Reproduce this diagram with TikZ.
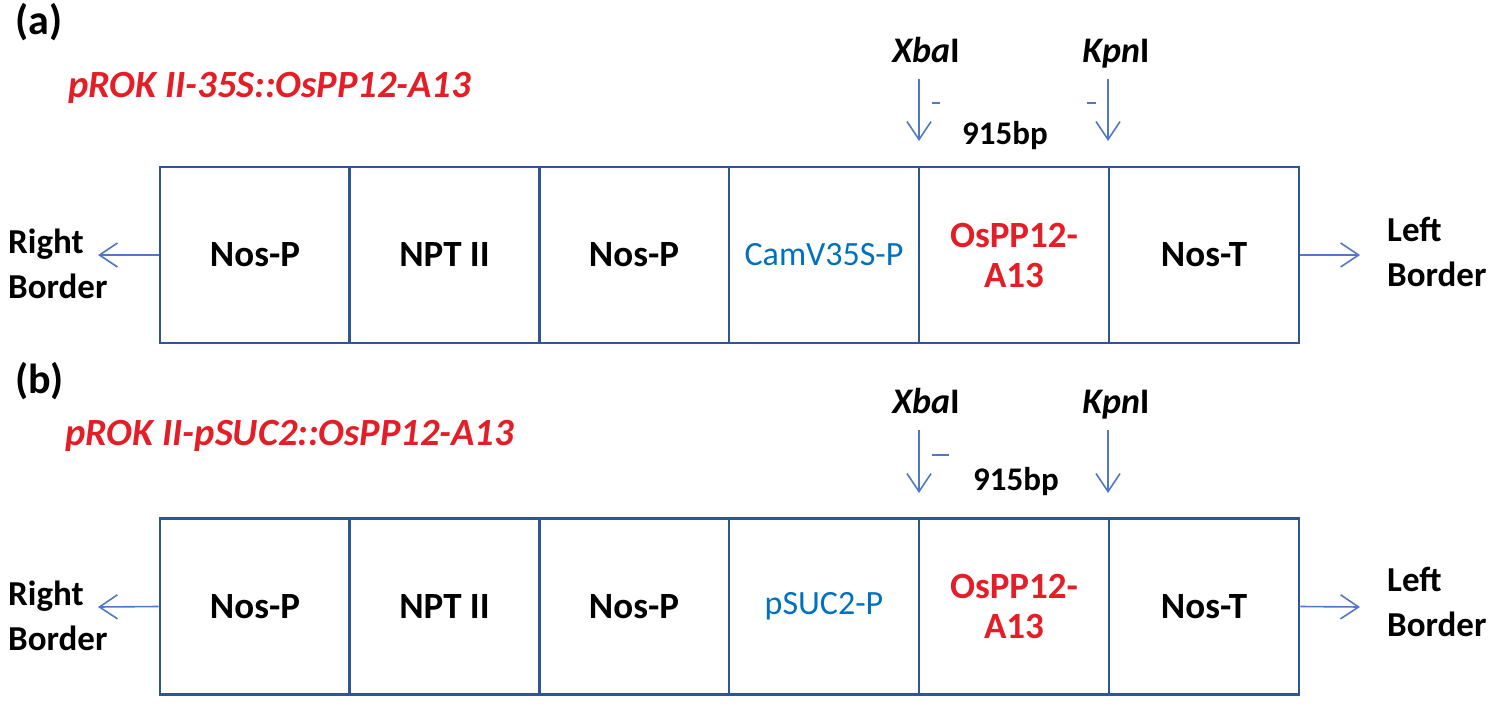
\documentclass[tikz,border=0pt]{standalone}
\usepackage{fontspec}
\setmainfont{Carlito}
\usetikzlibrary{arrows.meta}
\definecolor{boxblue}{RGB}{47,85,151}
\definecolor{arrblue}{RGB}{80,120,196}
\definecolor{txtblue}{RGB}{0,112,192}
\definecolor{txtred}{RGB}{228,30,38}
\tikzset{
  cell/.style={draw=boxblue, line width=2.8pt, minimum width=190pt, minimum height=176pt, inner sep=0pt, font=\fontsize{37}{40}\selectfont\bfseries, align=center},
  arr/.style={draw=arrblue, line width=1.6pt, -{Straight Barb[length=18pt,width=24pt,line width=1.6pt]}},
  lbl/.style={font=\fontsize{36}{44}\selectfont\bfseries, inner sep=0pt},
  ttl/.style={font=\fontsize{38.5}{44}\selectfont\bfseries\itshape, text=txtred, inner sep=0pt, anchor=base west},
  panel/.style={font=\fontsize{42}{44}\selectfont\bfseries, inner sep=0pt, anchor=base west},
  bord/.style={font=\fontsize{35}{45}\selectfont\bfseries, inner sep=0pt, align=left},
  dashmark/.style={draw=arrblue, line width=1.6pt},
}
\begin{document}
\begin{tikzpicture}[x=1pt,y=-1pt]
\useasboundingbox (0,0) rectangle (1500,709);
% ---------- panel (a)
\node[panel] (pa) at (15,35) {(a)};
\node[ttl] (ta) at (68,97) {pROK II-35S::OsPP12-A13};
\node[cell] (a1) at (255,255) {Nos-P};
\node[cell] (a2) at (444.5,255) {NPT II};
\node[cell] (a3) at (634,255) {Nos-P};
\node[cell, font=\fontsize{34}{40}\selectfont, text=txtblue] (a4) at (824,255) {CamV35S-P};
\node[cell, text=txtred] (a5) at (1014,255) {OsPP12-\\A13};
\node[cell] (a6) at (1204,255) {Nos-T};
\node[bord, anchor=west] (rba) at (8,264) {Right\\Border};
\node[bord, anchor=west] (lba) at (1387,252) {Left\\Border};
\coordinate (rbatip) at (98,255);
\coordinate (lbatip) at (1360,255);
\draw[arr] (a1.west) -- (rbatip);
\draw[arr] (a6.east) -- (lbatip);
\node[lbl, anchor=base] (xa) at (926,63) {\textit{Xba}I};
\node[lbl, anchor=base] (ka) at (1116,63) {\textit{Kpn}I};
\coordinate (xas) at (919,79); \coordinate (xat) at (919,141);
\coordinate (kas) at (1108,79); \coordinate (kat) at (1108,141);
\draw[arr] (xas) -- (xat);
\draw[arr] (kas) -- (kat);
\coordinate (da1) at (932,103); \coordinate (da2) at (940,103);
\coordinate (da3) at (1087,103); \coordinate (da4) at (1096,103);
\draw[dashmark] (da1) -- (da2);
\draw[dashmark] (da3) -- (da4);
\node[lbl, anchor=base, font=\fontsize{33}{40}\selectfont\bfseries] (bpa) at (1005,144) {915bp};
% ---------- panel (b)
\node[panel] (pb) at (15,393) {(b)};
\node[ttl] (tb) at (65,445) {pROK II-pSUC2::OsPP12-A13};
\node[cell] (b1) at (255,606.5) {Nos-P};
\node[cell] (b2) at (444.5,606.5) {NPT II};
\node[cell] (b3) at (634,606.5) {Nos-P};
\node[cell, font=\fontsize{34}{40}\selectfont, text=txtblue] (b4) at (824,606.5) {pSUC2-P};
\node[cell, text=txtred] (b5) at (1014,606.5) {OsPP12-\\A13};
\node[cell] (b6) at (1204,606.5) {Nos-T};
\node[bord, anchor=west] (rbb) at (8,616) {Right\\Border};
\node[bord, anchor=west] (lbb) at (1387,602) {Left\\Border};
\coordinate (rbbtip) at (98,607);
\coordinate (lbbtip) at (1360,607);
\draw[arr] (b1.west) -- (rbbtip);
\draw[arr] (b6.east) -- (lbbtip);
\node[lbl, anchor=base] (xb) at (926,413) {\textit{Xba}I};
\node[lbl, anchor=base] (kb) at (1116,413) {\textit{Kpn}I};
\coordinate (xbs) at (919,430); \coordinate (xbt) at (919,493);
\coordinate (kbs) at (1108,430); \coordinate (kbt) at (1108,493);
\draw[arr] (xbs) -- (xbt);
\draw[arr] (kbs) -- (kbt);
\coordinate (db1) at (932,455); \coordinate (db2) at (949,455);
\draw[dashmark] (db1) -- (db2);
\node[lbl, anchor=base, font=\fontsize{33}{40}\selectfont\bfseries] (bpb) at (1016,490) {915bp};
\end{tikzpicture}
\end{document}
